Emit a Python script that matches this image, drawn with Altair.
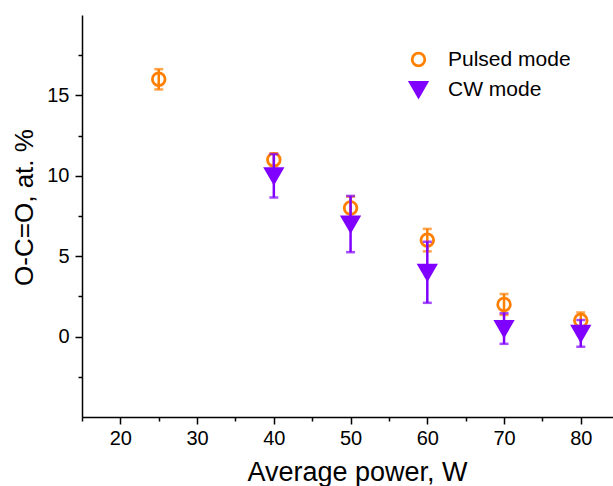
import altair as alt
import pandas as pd

# Data
pulsed_power = [25, 40, 50, 60, 70, 80]
pulsed_value = [16.0, 11.0, 8.0, 6.0, 2.0, 1.0]
pulsed_err = [0.63, 0.4, 0.7, 0.7, 0.65, 0.5]

cw_power = [40, 50, 60, 70, 80]
cw_value = [10.0, 7.0, 4.0, 0.5, 0.2]
cw_err = [1.35, 1.75, 1.9, 0.95, 0.83]

modes = ["Pulsed mode", "CW mode"]
x_major = [20, 30, 40, 50, 60, 70, 80]
x_minor = [15, 25, 35, 45, 55, 65, 75]
y_major = [0, 5, 10, 15]
y_minor = [-2.5, 2.5, 7.5, 12.5, 17.5]

ORANGE = "#FF8000"
PURPLE = "#8000FF"
FONT = "Liberation Sans"

pulsed = pd.DataFrame({"power": pulsed_power, "value": pulsed_value, "err": pulsed_err})
pulsed["mode"] = modes[0]
cw = pd.DataFrame({"power": cw_power, "value": cw_value, "err": cw_err})
cw["mode"] = modes[1]
for d in (pulsed, cw):
    d["lo"] = d["value"] - d["err"]
    d["hi"] = d["value"] + d["err"]

xscale = alt.Scale(domain=[15, 84.2], nice=False, zero=False)
yscale = alt.Scale(domain=[-5, 20], nice=False, zero=False)

major_x_axis = alt.Axis(
    orient="bottom", values=x_major, title="Average power, W", domain=True,
    domainColor="black", domainWidth=1.5, tickColor="black", tickWidth=1.5, tickSize=7,
    labelFont=FONT, labelFontSize=20, labelColor="black", labelPadding=4, grid=False,
    titleFont=FONT, titleFontSize=27, titleFontWeight="normal", titleColor="black",
    titleX=275, titleY=63, titleAlign="center", titleBaseline="alphabetic",
)
major_y_axis = alt.Axis(
    orient="left", values=y_major, title="O-C=O, at. %", domain=True,
    domainColor="black", domainWidth=1.5, tickColor="black", tickWidth=1.5, tickSize=7,
    labelFont=FONT, labelFontSize=20, labelColor="black", labelPadding=6, grid=False,
    titleFont=FONT, titleFontSize=26, titleFontWeight="normal", titleColor="black",
    titleX=-58, titleY=192, titleAlign="center", titleBaseline="middle", titleAngle=270,
)
minor_x_axis = alt.Axis(orient="bottom", values=x_minor, labels=False, domain=False,
                        tickColor="black", tickWidth=1.5, tickSize=4, title=None, grid=False)
minor_y_axis = alt.Axis(orient="left", values=y_minor, labels=False, domain=False,
                        tickColor="black", tickWidth=1.5, tickSize=4, title=None, grid=False)

shape_scale = alt.Scale(domain=modes, range=["circle", "triangle-down"])
stroke_scale = alt.Scale(domain=modes, range=[ORANGE, PURPLE])
fill_scale = alt.Scale(domain=modes, range=["transparent", PURPLE])
size_scale = alt.Scale(domain=modes, range=[160, 270])


def errbars(df, color):
    return alt.Chart(df).mark_errorbar(
        color=color, thickness=2.5,
        ticks={"size": 9, "thickness": 2.5, "color": color},
        rule={"strokeWidth": 2.5, "color": color},
    ).encode(
        x=alt.X("power:Q", scale=xscale, axis=None),
        y=alt.Y("lo:Q", scale=yscale, axis=None),
        y2="hi:Q",
    )


def points(df, xaxis, yaxis):
    return alt.Chart(df).mark_point(strokeWidth=2.8, opacity=1).encode(
        x=alt.X("power:Q", scale=xscale, axis=xaxis),
        y=alt.Y("value:Q", scale=yscale, axis=yaxis),
        shape=alt.Shape("mode:N", scale=shape_scale, sort=modes, title=None),
        stroke=alt.Stroke("mode:N", scale=stroke_scale, sort=modes, title=None),
        fill=alt.Fill("mode:N", scale=fill_scale, sort=modes, title=None),
        size=alt.Size("mode:N", scale=size_scale, sort=modes, title=None),
    )


chart = alt.layer(
    errbars(pulsed, ORANGE),
    points(pulsed, major_x_axis, major_y_axis),
    errbars(cw, PURPLE),
    points(cw, minor_x_axis, minor_y_axis),
).resolve_scale(
    x="shared", y="shared"
).resolve_axis(
    x="independent", y="independent"
).properties(
    width=531, height=402,
    autosize=alt.AutoSizeParams(type="none"),
    padding={"left": 82, "top": 15, "right": 0, "bottom": 69},
).configure_view(
    stroke=None
).configure_legend(
    orient="none", legendX=326, legendY=34, padding=0,
    labelFont=FONT, labelFontSize=21, labelColor="black", labelOffset=19,
    rowPadding=4, symbolStrokeWidth=2.8, symbolOpacity=1,
)

chart.save("out.html", embed_options={"renderer": "svg", "actions": False})
